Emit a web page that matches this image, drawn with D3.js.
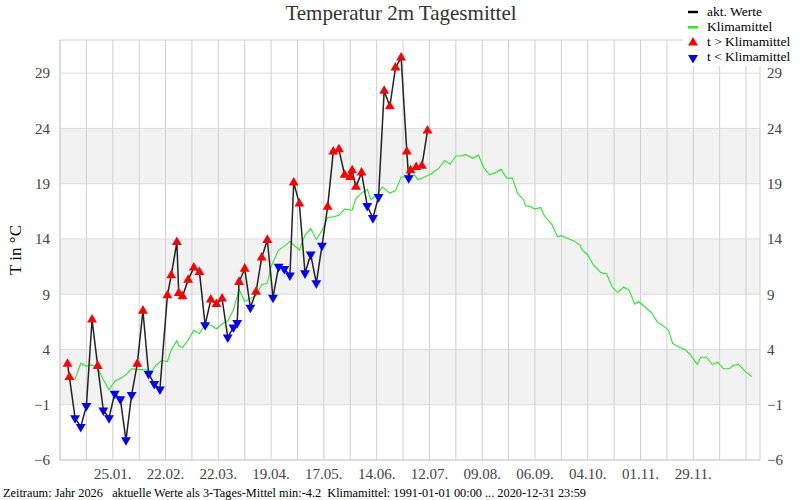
<html>
<head>
<title>Temperatur 2m Tagesmittel</title>
<script src="https://d3js.org/d3.v7.min.js"></script>
<style>
  body { margin:0; background:#fff; }
  text { font-family: "Liberation Serif", "Times New Roman", serif; }
</style>
</head>
<body>
<div id="chart"></div>
<script>

// aktuelle Werte (3-Tages-Mittel), Tag im Jahr 2026 (0 = 01.01.)
var actDays = [0,1,4,7,10,13,16,19,22,25,28,31,34,37,40,43,46,49,53,55,
               58,59,61,64,67,70,73,76,79,82,85,88,90,91,94,97,100,103,106,109,
               112,115,118,120,123,126,129,132,135,138,141,144,147,150,151,153,156,159,162,165,
               168,171,174,177,180,181,182,185,188,191];
var actTemps = [2.7,1.5,-2.2,-3.0,-1.1,6.7,2.5,-1.5,-2.2,0.0,-0.5,-4.2,-0.1,2.7,7.5,1.8,0.9,0.4,8.9,10.7,
                13.7,9.1,8.8,10.3,11.4,11.0,6.2,8.5,8.1,8.6,5.1,6.0,6.4,10.1,11.3,7.8,9.2,12.3,13.9,8.7,
                11.5,11.3,10.7,19.1,17.2,10.9,12.6,10.0,13.4,16.9,21.9,22.1,19.8,19.6,20.2,18.7,20.0,17.0,15.9,17.8,
                27.4,26.0,29.5,30.4,21.9,19.5,20.2,20.5,20.6,23.8];

// Klimamittel 1991-2020
var climDays = [0,4,7,10,13,16,19,22,25,28,31,34,37,41,45,47,50,53,55,58,59,61,64,67,70,73,76,79,82,85,
                88,91,94,97,100,103,106,108,112,115,118,120,123,126,129,132,135,138,141,144,147,151,153,156,159,161,164,167,171,174,
                177,180,184,186,190,193,197,200,203,206,209,211,215,218,221,224,227,230,233,236,239,242,243,245,248,251,253,257,260,262,
                266,269,272,273,276,279,283,286,289,292,295,298,301,303,307,310,313,316,319,321,324,328,331,334,336,339,342,345,348,351,
                353,356,360,363];
var climTemps = [1.3,1.3,2.75,2.5,2.6,2.35,1.25,0.35,1.1,1.4,1.7,2.25,2.2,2.15,2.1,2.6,3.0,2.9,3.95,4.8,4.3,4.2,4.85,5.75,5.45,6.3,6.2,5.85,6.3,6.6,
                 7.55,9.45,8.35,8.6,8.9,9.85,10.0,11.5,13.0,13.35,13.8,13.45,13.0,14.35,14.95,13.95,14.75,15.95,16.0,16.15,16.7,16.6,17.65,18.15,18.5,17.55,17.95,18.7,18.15,18.35,
                 19.6,19.6,19.8,19.35,19.65,19.9,20.4,21.1,20.75,21.5,21.5,21.65,21.3,21.6,20.4,19.8,20.0,20.3,19.5,19.5,18.05,17.55,17.0,16.95,16.7,16.85,16.1,15.3,14.2,14.3,
                 14.0,13.8,13.4,13.0,12.55,11.65,10.95,10.85,9.65,9.15,9.65,9.35,8.1,8.35,7.75,7.3,6.45,6.15,5.7,4.55,4.25,3.95,3.4,2.65,3.3,3.3,2.65,2.85,2.25,2.25,
                 2.55,2.65,1.95,1.55];

var yTicks = [-6,-1,4,9,14,19,24,29];
var xTickLabels = ["25.01.","22.02.","22.03.","19.04.","17.05.","14.06.","12.07.","09.08.","06.09.","04.10.","01.11.","29.11."];

var width = 800, height = 500;
// plot box (note: "top" is taken by window.top, so use own names)
var pL = 60, pR = 760, pT = 40, pB = 460;
var DAY = 24*60*60*1000;
var year0 = Date.UTC(2026,0,1);
var gridStart = Date.UTC(2025,11,28);
var toDate = function(d) { return new Date(year0 + d*DAY); };

var x = d3.scaleUtc()
          .domain([new Date(gridStart), new Date(gridStart + 371.4*DAY)])
          .range([pL, pR]);
var y = d3.scaleLinear().domain([-6, 32]).range([pB, pT]);

var svg = d3.select("#chart").append("svg")
            .attr("width", width)
            .attr("height", height);

// grey bands
var bands = [];
for (var i = 1; i < yTicks.length - 1; i += 2) bands.push([yTicks[i], yTicks[i+1]]);
svg.selectAll("rect.band")
   .data(bands)
   .enter()
   .append("rect")
   .attr("class","band")
   .attr("x", pL)
   .attr("width", pR - pL)
   .attr("y", (b) => y(b[1]))
   .attr("height", (b) => y(b[0]) - y(b[1]))
   .attr("fill", "#f2f2f2");

// vertical grid every 14 days
var gridDates = d3.range(0, 27).map((k) => new Date(gridStart + k*14*DAY));
svg.selectAll("line.vgrid")
   .data(gridDates)
   .enter()
   .append("line")
   .attr("x1", (d) => x(d)).attr("x2", (d) => x(d))
   .attr("y1", pT).attr("y2", pB)
   .attr("stroke", "#cfcfcf")
   .attr("stroke-width", 1);

// horizontal grid
svg.selectAll("line.hgrid")
   .data(yTicks)
   .enter()
   .append("line")
   .attr("x1", pL).attr("x2", pR)
   .attr("y1", (v) => y(v)).attr("y2", (v) => y(v))
   .attr("stroke", "#dcdcdc")
   .attr("stroke-width", 1);

// frame
svg.append("rect")
   .attr("x", pL).attr("y", pT)
   .attr("width", pR - pL).attr("height", pB - pT)
   .attr("fill", "none")
   .attr("stroke", "#cfcfcf");

// y labels, both sides
var yAxisL = d3.axisLeft(y).tickValues(yTicks).tickSize(0).tickPadding(10);
var yAxisR = d3.axisRight(y).tickValues(yTicks).tickSize(0).tickPadding(7);
[[yAxisL, pL], [yAxisR, pR]].forEach((a) => {
  var g = svg.append("g").attr("transform", "translate(" + a[1] + ",0)").call(a[0]);
  g.select(".domain").remove();
  g.selectAll("text")
   .attr("font-family", '"Liberation Serif", serif')
   .attr("font-size", 15)
   .attr("fill", "#444");
});

// x labels
var parseLabel = d3.utcParse("%d.%m.%Y");
svg.selectAll("text.xlab")
   .data(xTickLabels)
   .enter()
   .append("text")
   .attr("class","xlab")
   .attr("x", (s) => x(parseLabel(s + "2026")))
   .attr("y", 479)
   .attr("text-anchor","middle")
   .attr("font-size", 15)
   .attr("fill", "#444")
   .text((s) => s);

// Klimamittel
var clim = climDays.map((d, i) => ({date: toDate(d), t: climTemps[i]}));
var line = d3.line().x((p) => x(p.date)).y((p) => y(p.t));
svg.append("path")
   .datum(clim)
   .attr("d", line)
   .attr("fill","none")
   .attr("stroke","#22ee22")
   .attr("stroke-width",1.1);

// aktuelle Werte
var climAt = function(d) {
  var j = d3.bisectLeft(climDays, d);
  if (j <= 0) return climTemps[0];
  if (j >= climDays.length) return climTemps[climTemps.length-1];
  var f = (d - climDays[j-1]) / (climDays[j] - climDays[j-1]);
  return climTemps[j-1] + f*(climTemps[j] - climTemps[j-1]);
};
var act = actDays.map((d, i) => ({date: toDate(d), t: actTemps[i], up: actTemps[i] > climAt(d)}));
svg.append("path")
   .datum(act)
   .attr("d", line)
   .attr("fill","none")
   .attr("stroke","#222")
   .attr("stroke-width",1.5);

var tri = d3.symbol().type(d3.symbolTriangle).size(42);
svg.selectAll("path.mark")
   .data(act)
   .enter()
   .append("path")
   .attr("class","mark")
   .attr("d", tri)
   .attr("transform", (p) => "translate(" + x(p.date) + "," + y(p.t) + ")" + (p.up ? "" : " rotate(180)"))
   .attr("fill", (p) => p.up ? "#ff0000" : "#0000ff");

// legend
var leg = svg.append("g");
leg.append("rect").attr("x",683).attr("y",0).attr("width",117).attr("height",66).attr("fill","#fff");
var items = [{t:"akt. Werte", k:"line", c:"#000"},
             {t:"Klimamittel", k:"line", c:"#22ee22"},
             {t:"t > Klimamittel", k:"up", c:"#ff0000"},
             {t:"t < Klimamittel", k:"down", c:"#0000ff"}];
items.forEach((it, i) => {
  var cy = 11 + i*15.3;
  if (it.k == "line") {
    leg.append("line").attr("x1",688).attr("x2",698).attr("y1",cy+1).attr("y2",cy+1)
       .attr("stroke", it.c).attr("stroke-width",2.5);
  } else {
    leg.append("path").attr("d", tri)
       .attr("transform","translate(693," + (cy+1) + ")" + (it.k == "up" ? "" : " rotate(180)"))
       .attr("fill", it.c);
  }
  leg.append("text").attr("x",707).attr("y",cy+4.5)
     .attr("font-size",13.5).attr("fill","#000").text(it.t);
});

// title
svg.append("text")
   .attr("x", 401).attr("y", 20)
   .attr("text-anchor","middle")
   .attr("font-size", 21)
   .attr("fill", "#333")
   .text("Temperatur 2m Tagesmittel");

// y title
svg.append("text")
   .attr("transform","translate(21,250) rotate(-90)")
   .attr("text-anchor","middle")
   .attr("font-size", 17)
   .attr("fill", "#000")
   .text("T in °C");

// footer
svg.append("text")
   .attr("x", 3).attr("y", 497)
   .attr("font-size", 12)
   .attr("fill", "#000")
   .attr("textLength", 583)
   .attr("lengthAdjust", "spacingAndGlyphs")
   .style("white-space","pre")
   .text("Zeitraum: Jahr 2026   aktuelle Werte als 3-Tages-Mittel min:" + d3.min(actTemps) + "  Klimamittel: 1991-01-01 00:00 ... 2020-12-31 23:59");

</script>
</body>
</html>
